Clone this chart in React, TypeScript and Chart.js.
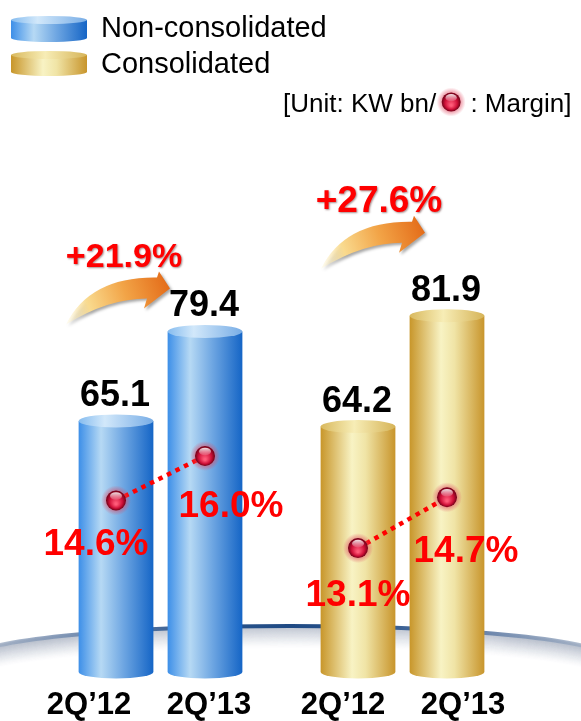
import React, { useEffect, useRef } from "react";
import { Chart, registerables } from "chart.js";

Chart.register(...registerables);

// ---- data ----
const groups = ["Non-consolidated", "Consolidated"];
const periods = ["2Q’12", "2Q’13"];
const nonConsolidated = [65.1, 79.4];
const consolidated = [64.2, 81.9];
const nonConsolidatedMargin = [14.6, 16.0];
const consolidatedMargin = [13.1, 14.7];
const growthLabels = ["+21.9%", "+27.6%"];
const unitText = ["[Unit: KW bn/", " : Margin]"];

const Y_MIN = 25;
const Y_MAX = 94;
const Y2_MIN = 9.2;
const Y2_MAX = 22.8;

const FONT = '"Liberation Sans", Arial, Helvetica, sans-serif';

const BLUE = {
  body: [
    [0, "#3d8fe8"],
    [0.3, "#b6d9f4"],
    [0.6, "#6ea6e2"],
    [1, "#1565c6"],
  ],
  top: [
    [0, "#86bcef"],
    [0.35, "#d2e8fa"],
    [1, "#78ade6"],
  ],
};
const GOLD = {
  body: [
    [0, "#c8962a"],
    [0.42, "#f8f3c4"],
    [0.6, "#f0e4a6"],
    [1, "#c8952c"],
  ],
  top: [
    [0, "#d9b95e"],
    [0.45, "#f7edb6"],
    [1, "#d6b458"],
  ],
};

function drawCylinder(ctx: CanvasRenderingContext2D, x: number, top: number, base: number, w: number, pal: any, ry: number) {
  const left = x - w / 2;
  const right = x + w / 2;
  ctx.save();
  const g = ctx.createLinearGradient(left, 0, right, 0);
  pal.body.forEach(([o, c]: any) => g.addColorStop(o, c));
  ctx.fillStyle = g;
  ctx.beginPath();
  ctx.moveTo(left, top);
  ctx.lineTo(left, base);
  ctx.ellipse(x, base, w / 2, ry, 0, Math.PI, 0, true);
  ctx.lineTo(right, top);
  ctx.closePath();
  ctx.fill();
  const t = ctx.createLinearGradient(left, 0, right, 0);
  pal.top.forEach(([o, c]: any) => t.addColorStop(o, c));
  ctx.fillStyle = t;
  ctx.beginPath();
  ctx.ellipse(x, top, w / 2, ry, 0, 0, Math.PI * 2);
  ctx.fill();
  ctx.restore();
}

function drawMarker(ctx: CanvasRenderingContext2D, x: number, y: number, r = 10) {
  ctx.save();
  const glow = ctx.createRadialGradient(x, y, r - 1, x, y, r + 5);
  glow.addColorStop(0, "rgba(225,70,95,0.6)");
  glow.addColorStop(1, "rgba(225,70,95,0)");
  ctx.fillStyle = glow;
  ctx.beginPath();
  ctx.arc(x, y, r + 5, 0, Math.PI * 2);
  ctx.fill();
  const g = ctx.createRadialGradient(x, y + r * 0.35, 1, x, y, r);
  g.addColorStop(0, "#ff5a78");
  g.addColorStop(0.6, "#cf1038");
  g.addColorStop(1, "#6e0016");
  ctx.fillStyle = g;
  ctx.beginPath();
  ctx.arc(x, y, r, 0, Math.PI * 2);
  ctx.fill();
  const h = ctx.createLinearGradient(0, y - r * 0.9, 0, y - r * 0.1);
  h.addColorStop(0, "rgba(255,255,255,0.95)");
  h.addColorStop(1, "rgba(255,255,255,0.15)");
  ctx.fillStyle = h;
  ctx.beginPath();
  ctx.ellipse(x, y - r * 0.45, r * 0.6, r * 0.38, 0, 0, Math.PI * 2);
  ctx.fill();
  ctx.restore();
}

function drawArrow(ctx: CanvasRenderingContext2D, tx: number, ty: number) {
  const P = (dx: number, dy: number): [number, number] => [tx + dx, ty + dy];
  ctx.save();
  ctx.shadowColor = "rgba(0,0,0,0.35)";
  ctx.shadowBlur = 3;
  ctx.shadowOffsetX = 2;
  ctx.shadowOffsetY = 2;
  const T = P(-104, 36);
  const g = ctx.createLinearGradient(T[0], T[1], tx, ty);
  g.addColorStop(0, "rgba(255,245,205,0.25)");
  g.addColorStop(0.25, "#f9da8e");
  g.addColorStop(0.6, "#f2a447");
  g.addColorStop(1, "#e46c19");
  ctx.fillStyle = g;
  ctx.beginPath();
  ctx.moveTo(...T);
  ctx.quadraticCurveTo(...P(-80, -12), ...P(-13, -11));
  ctx.lineTo(...P(-11, -17));
  ctx.lineTo(tx, ty);
  ctx.lineTo(...P(-26, 20));
  ctx.lineTo(...P(-23, 10));
  ctx.quadraticCurveTo(...P(-62, 10), ...T);
  ctx.closePath();
  ctx.fill();
  ctx.restore();
}

function drawGround(ctx: CanvasRenderingContext2D) {
  const cx = 290, cy = 659, rx = 320, ry = 33;
  ctx.save();
  for (let k = 22; k >= 0; k--) {
    ctx.strokeStyle = `rgba(105,120,148,${0.34 * Math.pow(1 - k / 23, 1.4)})`;
    ctx.lineWidth = 1.6;
    ctx.beginPath();
    ctx.ellipse(cx, cy + k, rx, ry, 0, Math.PI, Math.PI * 2);
    ctx.stroke();
  }
  const g = ctx.createLinearGradient(cx - rx, 0, cx + rx, 0);
  g.addColorStop(0, "rgba(170,182,200,0.7)");
  g.addColorStop(0.2, "#6883aa");
  g.addColorStop(0.38, "#2a548c");
  g.addColorStop(0.5, "#1f4a84");
  g.addColorStop(0.62, "#2a548c");
  g.addColorStop(0.8, "#6883aa");
  g.addColorStop(1, "rgba(170,182,200,0.7)");
  ctx.strokeStyle = g;
  ctx.lineWidth = 4;
  ctx.beginPath();
  ctx.ellipse(cx, cy, rx, ry, 0, Math.PI, Math.PI * 2);
  ctx.stroke();
  ctx.restore();
}

const pctDx = [[-20, 26], [0, 19]];
const pctDy = [[55, 61], [58, 65]];
const arrowOffset = [[-35, -43], [-22, -83]];
const growthFont = [34, 37];
const periodLabelDx = [[-27, 4], [-15, 16]];

const decoPlugin = {
  id: "deco",
  beforeDatasetsDraw(chart: any) {
    drawGround(chart.ctx);
  },
  afterDatasetsDraw(chart: any) {
    const ctx: CanvasRenderingContext2D = chart.ctx;
    const y2 = chart.scales.y2;
    const margins = [nonConsolidatedMargin, consolidatedMargin];
    const pals = [BLUE, GOLD];

    // cylinders + value labels + period labels
    for (let g = 0; g < groups.length; g++) {
      for (let p = 0; p < periods.length; p++) {
        const el = chart.getDatasetMeta(p).data[g];
        drawCylinder(ctx, el.x, el.y, el.base, el.width, pals[g], 6.5);
        ctx.save();
        ctx.fillStyle = "#000";
        ctx.font = `bold 36px ${FONT}`;
        ctx.textAlign = "center";
        ctx.textBaseline = "alphabetic";
        const v = chart.data.datasets[p].data[g];
        ctx.fillText(v.toFixed(1), el.x - 1, el.y - 15);
        ctx.font = `bold 31px ${FONT}`;
        ctx.fillText(periods[p], el.x + periodLabelDx[g][p], 714);
        ctx.restore();
      }
    }

    // margins
    for (let g = 0; g < groups.length; g++) {
      const pts = periods.map((_, p) => {
        const el = chart.getDatasetMeta(p).data[g];
        return [el.x, y2.getPixelForValue(margins[g][p])];
      });
      ctx.save();
      ctx.strokeStyle = "#ff0000";
      ctx.lineWidth = 4.5;
      ctx.setLineDash([4.5, 5]);
      ctx.beginPath();
      ctx.moveTo(pts[0][0], pts[0][1]);
      ctx.lineTo(pts[1][0], pts[1][1]);
      ctx.stroke();
      ctx.restore();
      pts.forEach(([x, y], p) => {
        drawMarker(ctx, x, y);
        ctx.save();
        ctx.fillStyle = "#ff0000";
        ctx.font = `bold 37px ${FONT}`;
        ctx.textAlign = "center";
        ctx.fillText(margins[g][p].toFixed(1) + "%", x + pctDx[g][p], y + pctDy[g][p]);
        ctx.restore();
      });

      // growth arrow
      const right = chart.getDatasetMeta(1).data[g];
      const tx = right.x + arrowOffset[g][0];
      const ty = right.y + arrowOffset[g][1];
      drawArrow(ctx, tx, ty);
      ctx.save();
      ctx.font = `bold ${growthFont[g]}px ${FONT}`;
      ctx.textAlign = "center";
      ctx.shadowColor = "rgba(60,0,0,0.45)";
      ctx.shadowBlur = 2;
      ctx.shadowOffsetX = 1;
      ctx.shadowOffsetY = 1;
      ctx.fillStyle = "#ff0000";
      ctx.fillText(growthLabels[g], tx - 46, ty - 21);
      ctx.restore();
    }

    // legend
    const legendItems = [
      { label: groups[0], pal: BLUE, top: 16, bottom: 42, base: 37 },
      { label: groups[1], pal: GOLD, top: 51, bottom: 76, base: 73 },
    ];
    legendItems.forEach((it) => {
      drawCylinder(ctx, 49, it.top + 4, it.bottom - 4, 76, it.pal, 4);
      ctx.save();
      ctx.fillStyle = "#000";
      ctx.font = `29px ${FONT}`;
      ctx.textAlign = "left";
      ctx.fillText(it.label, 101, it.base);
      ctx.restore();
    });

    // unit text
    ctx.save();
    ctx.fillStyle = "#000";
    ctx.font = `26px ${FONT}`;
    ctx.textAlign = "left";
    const x0 = 283;
    const by = 112;
    ctx.fillText(unitText[0], x0, by);
    const w1 = ctx.measureText(unitText[0]).width;
    const mx = x0 + w1 + 15;
    drawMarker(ctx, mx, by - 10, 9.5);
    ctx.fillStyle = "#000";
    ctx.fillText(unitText[1], mx + 12, by);
    ctx.restore();
  },
};

export default function App() {
  const ref = useRef<HTMLCanvasElement>(null);
  useEffect(() => {
    document.body.style.margin = "0";
    const canvas = ref.current!;
    const datasets: any[] = periods.map((p, i) => ({
      type: "bar",
      label: p,
      data: [nonConsolidated[i], consolidated[i]],
      backgroundColor: "rgba(0,0,0,0)",
      borderWidth: 0,
      categoryPercentage: 0.7355,
      barPercentage: 0.84,
      base: Y_MIN,
      yAxisID: "y",
    }));
    periods.forEach((p, i) => {
      datasets.push({
        type: "line",
        label: "Margin " + p,
        data: [nonConsolidatedMargin[i], consolidatedMargin[i]],
        yAxisID: "y2",
        pointRadius: 0,
        borderWidth: 0,
        showLine: false,
      });
    });
    const chart = new Chart(canvas, {
      type: "bar",
      data: { labels: groups, datasets },
      options: {
        responsive: false,
        animation: false,
        devicePixelRatio: 1,
        events: [],
        layout: { padding: { left: 39.5, right: 57.5, top: 240, bottom: 49 } },
        plugins: { legend: { display: false }, tooltip: { enabled: false } },
        scales: {
          x: { display: false },
          y: { display: false, min: Y_MIN, max: Y_MAX },
          y2: { display: false, min: Y2_MIN, max: Y2_MAX, position: "right" },
        },
      } as any,
      plugins: [decoPlugin as any],
    });
    return () => chart.destroy();
  }, []);
  return (
    <div style={{ width: 581, height: 721, overflow: "hidden", background: "#fff" }}>
      <canvas ref={ref} width={581} height={721} style={{ display: "block" }} />
    </div>
  );
}
